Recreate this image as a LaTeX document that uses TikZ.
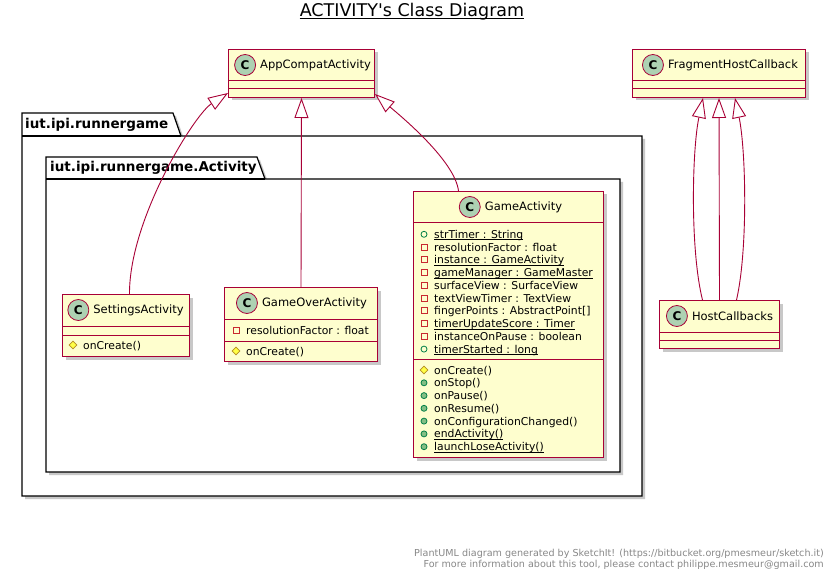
\documentclass[tikz,border=0pt]{standalone}
\usepackage{fontspec}
\setmainfont{DejaVu Sans}[Ligatures=TeXOff]
\usetikzlibrary{arrows.meta,positioning,shapes.geometric,shadows}
\usepackage{xcolor}
\definecolor{ClsFill}{HTML}{FEFECE}
\definecolor{ClsLine}{HTML}{A80036}
\definecolor{Spot}{HTML}{ADD1B2}
\definecolor{PubLine}{HTML}{038048}
\definecolor{PubFill}{HTML}{84BE84}
\definecolor{PrivLine}{HTML}{C82930}
\definecolor{ProtLine}{HTML}{B38D22}
\definecolor{ProtFill}{HTML}{FFFF44}
\definecolor{FootGray}{HTML}{888888}
% static members: underline at a fixed depth
\newcommand{\ustat}[1]{\setbox0=\hbox{#1}\rlap{\rule[-1.6pt]{\wd0}{.7pt}}\box0}

\begin{document}
\begin{tikzpicture}[x=1pt, y=-1pt,
  clsbox/.style={draw=ClsLine, fill=ClsFill, line width=1pt, inner sep=0pt, anchor=north west,
                 drop shadow={shadow xshift=3pt, shadow yshift=-3pt, opacity=.3, fill=black!70}},
  clsname/.style={inner sep=0pt, font=\fontsize{11.5}{13}\selectfont},
  spot/.style={circle, draw=ClsLine, fill=Spot, minimum size=21pt, inner sep=0pt, line width=.8pt,
               font=\fontsize{12}{12}\selectfont\bfseries},
  sepline/.style={draw=ClsLine, line width=1pt},
  member/.style={inner sep=0pt, anchor=base west, font=\fontsize{10.8}{12}\selectfont},
  pubattr/.style={circle, draw=PubLine, line width=.8pt, minimum size=6pt, inner sep=0pt},
  pubop/.style={pubattr, fill=PubFill},
  privattr/.style={rectangle, draw=PrivLine, line width=.8pt, minimum size=6pt, inner sep=0pt},
  protop/.style={diamond, draw=ProtLine, fill=ProtFill, line width=.8pt, minimum size=8pt, inner sep=0pt},
  pkg/.style={draw=black, fill=white, line width=1.2pt,
              drop shadow={shadow xshift=3pt, shadow yshift=-3pt, opacity=.3, fill=black!70}},
  pkgname/.style={inner sep=0pt, anchor=west, font=\fontsize{13.5}{15}\selectfont\bfseries},
  extends/.style={draw=ClsLine, line width=.9pt, -{Triangle[length=20pt, width=14pt, fill=white]}}
]
  \fill[white] (0,0) rectangle (835,580);
  \useasboundingbox (0,0) rectangle (835,580);

  % title
  \node[inner sep=0pt, anchor=base, font=\fontsize{17.5}{20}\selectfont] (title) at (412,16.5) {ACTIVITY's Class Diagram};
  \draw[line width=.9pt] ([yshift=-2pt]title.base west) -- ([yshift=-2pt]title.base east);

  % packages
  \draw[pkg] (22,113) -- (173,113) -- (181,136) -- (642,136) -- (642,496) -- (22,496) -- cycle;
  \draw[line width=1.2pt] (22,136) -- (181,136);
  \node[pkgname] (pkgrun) at (25,125) {iut.ipi.runnergame};
  \draw[pkg] (46,157) -- (257,157) -- (265,179) -- (620,179) -- (620,472) -- (46,472) -- cycle;
  \draw[line width=1.2pt] (46,179) -- (265,179);
  \node[pkgname] (pkgact) at (50,168) {iut.ipi.runnergame.Activity};

  % AppCompatActivity
  \node[clsbox, minimum width=146pt, minimum height=48pt] (app) at (228,49) {};
  \node[clsname] (appn) at ([xshift=14pt, yshift=-16pt]app.north) {AppCompatActivity};
  \node[spot, left=4pt of appn] (appc) {C};
  \draw[sepline] ([yshift=-32pt]app.north west) -- ([yshift=-32pt]app.north east);
  \draw[sepline] ([yshift=-40pt]app.north west) -- ([yshift=-40pt]app.north east);

  % FragmentHostCallback
  \node[clsbox, minimum width=173pt, minimum height=48pt] (fhc) at (632,49) {};
  \node[clsname] (fhcn) at ([xshift=14pt, yshift=-16pt]fhc.north) {FragmentHostCallback};
  \node[spot, left=4pt of fhcn] (fhcc) {C};
  \draw[sepline] ([yshift=-32pt]fhc.north west) -- ([yshift=-32pt]fhc.north east);
  \draw[sepline] ([yshift=-40pt]fhc.north west) -- ([yshift=-40pt]fhc.north east);

  % HostCallbacks
  \node[clsbox, minimum width=120pt, minimum height=48pt] (host) at (659,300) {};
  \node[clsname] (hostn) at ([xshift=13pt, yshift=-16pt]host.north) {HostCallbacks};
  \node[spot, left=4pt of hostn] (hostc) {C};
  \draw[sepline] ([yshift=-32pt]host.north west) -- ([yshift=-32pt]host.north east);
  \draw[sepline] ([yshift=-40pt]host.north west) -- ([yshift=-40pt]host.north east);

  % SettingsActivity
  \node[clsbox, minimum width=127pt, minimum height=62pt] (set) at (62,294) {};
  \node[clsname] (setn) at ([xshift=12.5pt, yshift=-16pt]set.north) {SettingsActivity};
  \node[spot, left=4pt of setn] (setc) {C};
  \draw[sepline] ([yshift=-32pt]set.north west) -- ([yshift=-32pt]set.north east);
  \draw[sepline] ([yshift=-41pt]set.north west) -- ([yshift=-41pt]set.north east);
  \node[protop] (seto1i) at (73,345) {};
  \node[member] (seto1) at (83,349) {onCreate()};

  % GameOverActivity
  \node[clsbox, minimum width=153pt, minimum height=74pt] (over) at (224,287) {};
  \node[clsname] (overn) at ([xshift=13.5pt, yshift=-16pt]over.north) {GameOverActivity};
  \node[spot, left=4pt of overn] (overc) {C};
  \draw[sepline] ([yshift=-32pt]over.north west) -- ([yshift=-32pt]over.north east);
  \draw[sepline] ([yshift=-54pt]over.north west) -- ([yshift=-54pt]over.north east);
  \node[privattr] (overa1i) at (236,330) {};
  \node[member] (overa1) at (246,334) {resolutionFactor : float};
  \node[protop] (overo1i) at (236,351) {};
  \node[member] (overo1) at (246,355) {onCreate()};

  % GameActivity
  \node[clsbox, minimum width=190pt, minimum height=266pt] (game) at (413,191) {};
  \node[clsname] (gamen) at ([xshift=15pt, yshift=-16pt]game.north) {GameActivity};
  \node[spot, left=4pt of gamen] (gamec) {C};
  \draw[sepline] ([yshift=-32pt]game.north west) -- ([yshift=-32pt]game.north east);
  \draw[sepline] ([yshift=-168pt]game.north west) -- ([yshift=-168pt]game.north east);
  \node[pubattr]  (gamea1i)  at (424,234.3) {};
  \node[member]   (gamea1)   at (434,238.3) {\ustat{strTimer : String}};
  \node[privattr] (gamea2i)  at (424,247.1) {};
  \node[member]   (gamea2)   at (434,251.1) {resolutionFactor : float};
  \node[privattr] (gamea3i)  at (424,259.8) {};
  \node[member]   (gamea3)   at (434,263.8) {\ustat{instance : GameActivity}};
  \node[privattr] (gamea4i)  at (424,272.6) {};
  \node[member]   (gamea4)   at (434,276.6) {\ustat{gameManager : GameMaster}};
  \node[privattr] (gamea5i)  at (424,285.3) {};
  \node[member]   (gamea5)   at (434,289.3) {surfaceView : SurfaceView};
  \node[privattr] (gamea6i)  at (424,298.1) {};
  \node[member]   (gamea6)   at (434,302.1) {textViewTimer : TextView};
  \node[privattr] (gamea7i)  at (424,310.8) {};
  \node[member]   (gamea7)   at (434,314.8) {fingerPoints : AbstractPoint[]};
  \node[privattr] (gamea8i)  at (424,323.6) {};
  \node[member]   (gamea8)   at (434,327.6) {\ustat{timerUpdateScore : Timer}};
  \node[privattr] (gamea9i)  at (424,336.3) {};
  \node[member]   (gamea9)   at (434,340.3) {instanceOnPause : boolean};
  \node[pubattr]  (gamea10i) at (424,349.1) {};
  \node[member]   (gamea10)  at (434,353.1) {\ustat{timerStarted : long}};
  \node[protop]   (gameo1i)  at (424,370) {};
  \node[member]   (gameo1)   at (434,374) {onCreate()};
  \node[pubop]    (gameo2i)  at (424,382.8) {};
  \node[member]   (gameo2)   at (434,386.8) {onStop()};
  \node[pubop]    (gameo3i)  at (424,395.6) {};
  \node[member]   (gameo3)   at (434,399.6) {onPause()};
  \node[pubop]    (gameo4i)  at (424,408.3) {};
  \node[member]   (gameo4)   at (434,412.3) {onResume()};
  \node[pubop]    (gameo5i)  at (424,421.1) {};
  \node[member]   (gameo5)   at (434,425.1) {onConfigurationChanged()};
  \node[pubop]    (gameo6i)  at (424,433.9) {};
  \node[member]   (gameo6)   at (434,437.9) {\ustat{endActivity()}};
  \node[pubop]    (gameo7i)  at (424,446.7) {};
  \node[member]   (gameo7)   at (434,450.7) {\ustat{launchLoseActivity()}};

  % inheritance
  \draw[extends] ([xshift=3.5pt]set.north) .. controls (129,220) and (194,115) .. ([yshift=5pt]app.south west);
  \draw[extends] (over.north) -- (app.south);
  \draw[extends] ([xshift=-50pt]game.north) .. controls (455,160) and (397,113) .. ([yshift=4pt]app.south east);
  \draw[extends] ([xshift=-17pt]host.north) .. controls (690,250) and (692,150) .. ([xshift=-16pt]fhc.south);
  \draw[extends] (host.north) -- (fhc.south);
  \draw[extends] ([xshift=17pt]host.north) .. controls (748,250) and (746,150) .. ([xshift=16pt]fhc.south);

  % footer
  \node[inner sep=0pt, anchor=base east, text=FootGray, font=\fontsize{9.6}{11}\selectfont] (foot1) at (824,556.5)
    {PlantUML diagram generated by SketchIt! (https://bitbucket.org/pmesmeur/sketch.it)};
  \node[inner sep=0pt, anchor=base east, text=FootGray, font=\fontsize{9.6}{11}\selectfont] (foot2) at (824,567.5)
    {For more information about this tool, please contact philippe.mesmeur@gmail.com};
\end{tikzpicture}
\end{document}
